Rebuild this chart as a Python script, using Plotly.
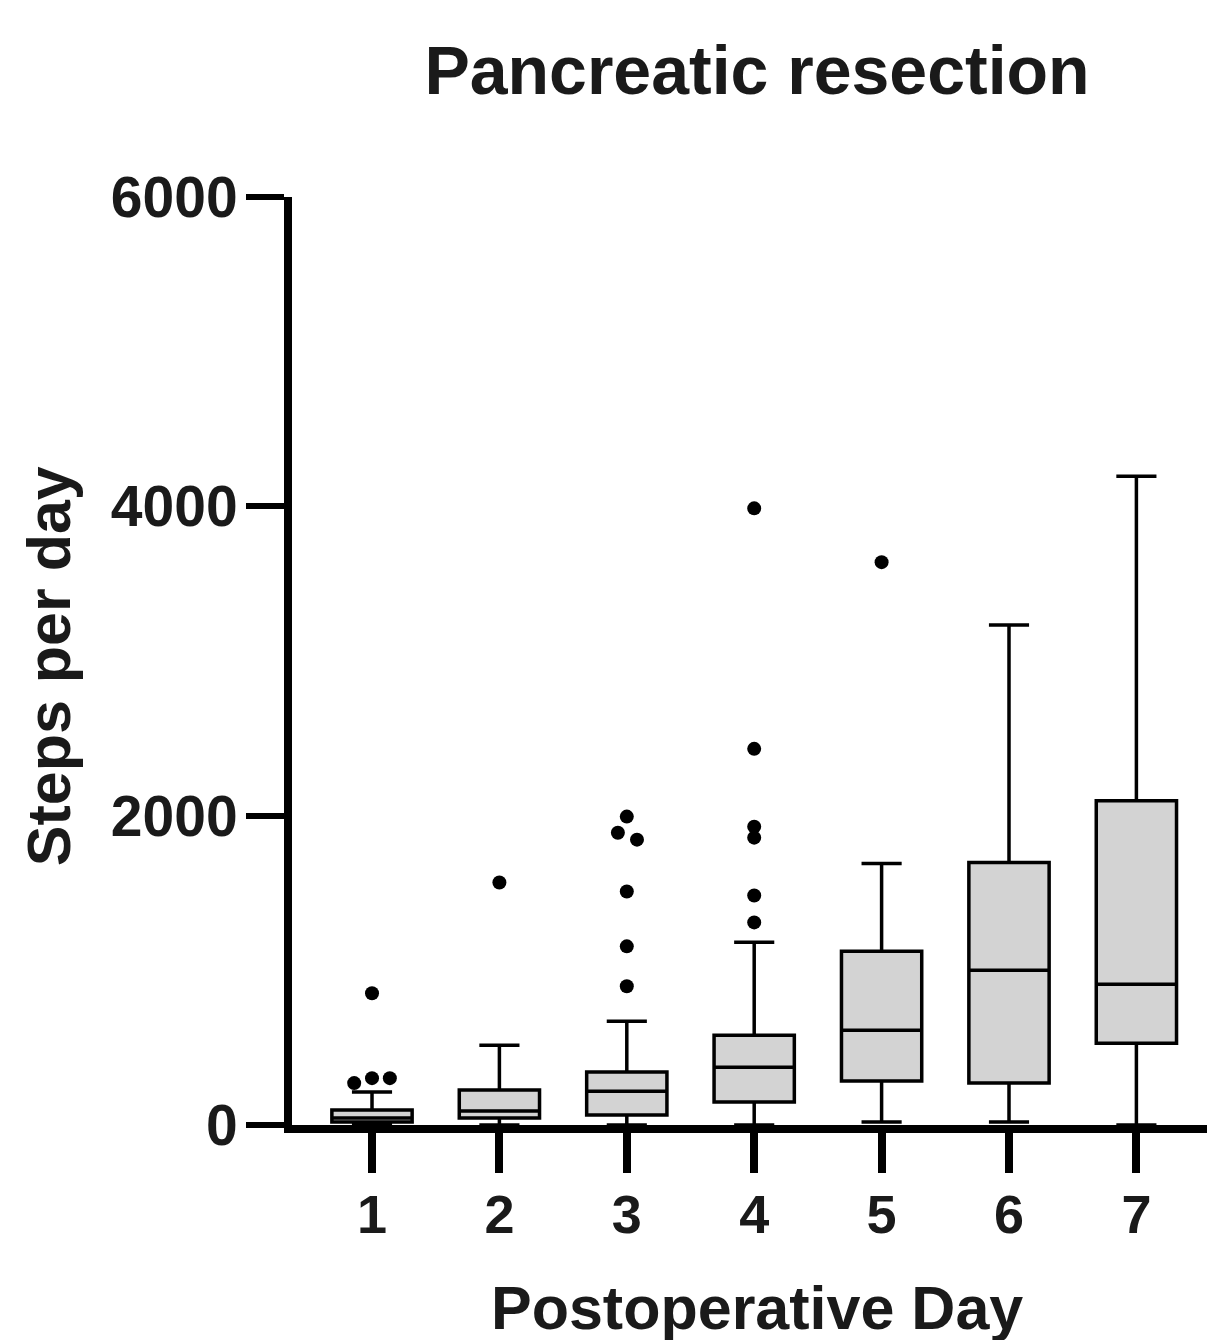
import plotly.graph_objects as go

# ---- data ----
days = [1, 2, 3, 4, 5, 6, 7]
q1 = [19, 45, 65, 148, 284, 271, 529]
median = [45, 90, 219, 374, 613, 1000, 910]
q3 = [97, 226, 342, 581, 1123, 1697, 2097]
lower_whisker = [0, 0, 0, 0, 20, 20, 0]
upper_whisker = [213, 516, 671, 1181, 1690, 3232, 4194]

outlier_day = [1, 1, 1, 1, 2, 3, 3, 3, 3, 3, 3, 4, 4, 4, 4, 4, 4, 5]
outlier_value = [852, 271, 303, 303, 1568, 1994, 1890, 1845, 1510, 1155, 897,
                 3987, 2432, 1929, 1858, 1484, 1310, 3639]
outlier_jitter = [0, -0.14, 0, 0.14, 0, 0, -0.07, 0.08, 0, 0, 0,
                  0, 0, 0, 0, 0, 0, 0]

y_ticks = [0, 2000, 4000, 6000]

title_text = "Pancreatic resection"
x_title = "Postoperative Day"
y_title = "Steps per day"

FONT = "Liberation Sans, Arial, sans-serif"
TXT = "#1a1a1a"

fig = go.Figure()

fig.add_trace(go.Box(
    x=days,
    q1=q1, median=median, q3=q3,
    lowerfence=lower_whisker, upperfence=upper_whisker,
    width=0.63, whiskerwidth=0.5,
    fillcolor="#d3d3d3",
    line=dict(color="black", width=3.5),
    boxpoints=False,
    showlegend=False,
    hoverinfo="skip",
))

fig.add_trace(go.Scatter(
    x=[d + j for d, j in zip(outlier_day, outlier_jitter)],
    y=outlier_value,
    mode="markers",
    marker=dict(color="black", size=14),
    showlegend=False,
    hoverinfo="skip",
))

fig.update_layout(
    width=1215, height=1340,
    margin=dict(l=284, r=8, t=189, b=223, pad=0),
    plot_bgcolor="white", paper_bgcolor="white",
    font=dict(family=FONT, color=TXT),
    title=dict(text="<b>" + title_text + "</b>", x=749 / 1215, xanchor="center",
               y=1 - 62 / 1340, yanchor="middle", font=dict(size=68, family=FONT, color=TXT)),
    annotations=[
        dict(text="<b>" + x_title + "</b>", xref="paper", yref="paper",
             x=0.5038, y=-0.197, xanchor="center", yanchor="middle",
             showarrow=False, font=dict(size=61, family=FONT, color=TXT)),
        dict(text="<b>" + y_title + "</b>", xref="paper", yref="paper",
             x=-0.263, y=0.4946, xanchor="center", yanchor="middle", textangle=-90,
             showarrow=False, font=dict(size=61, family=FONT, color=TXT)),
    ],
)

fig.update_xaxes(
    range=[0.372, 7.617],
    tickmode="array", tickvals=days, ticktext=[f"<b>{d}</b>" for d in days],
    tickfont=dict(size=54, family=FONT, color=TXT),
    ticks="outside", ticklen=40, tickwidth=8, tickcolor="black",
    showline=True, linewidth=8, linecolor="black",
    showgrid=False, zeroline=False,
    ticklabelstandoff=-5,
)

fig.update_yaxes(
    range=[0, 6000],
    tickmode="array", tickvals=y_ticks, ticktext=[f"<b>{v}</b>" for v in y_ticks],
    tickfont=dict(size=57, family=FONT, color=TXT),
    ticks="outside", ticklen=38, tickwidth=6, tickcolor="black",
    showline=True, linewidth=8, linecolor="black",
    showgrid=False, zeroline=False,
    ticklabelstandoff=-3,
)

fig.write_html("out.html")
